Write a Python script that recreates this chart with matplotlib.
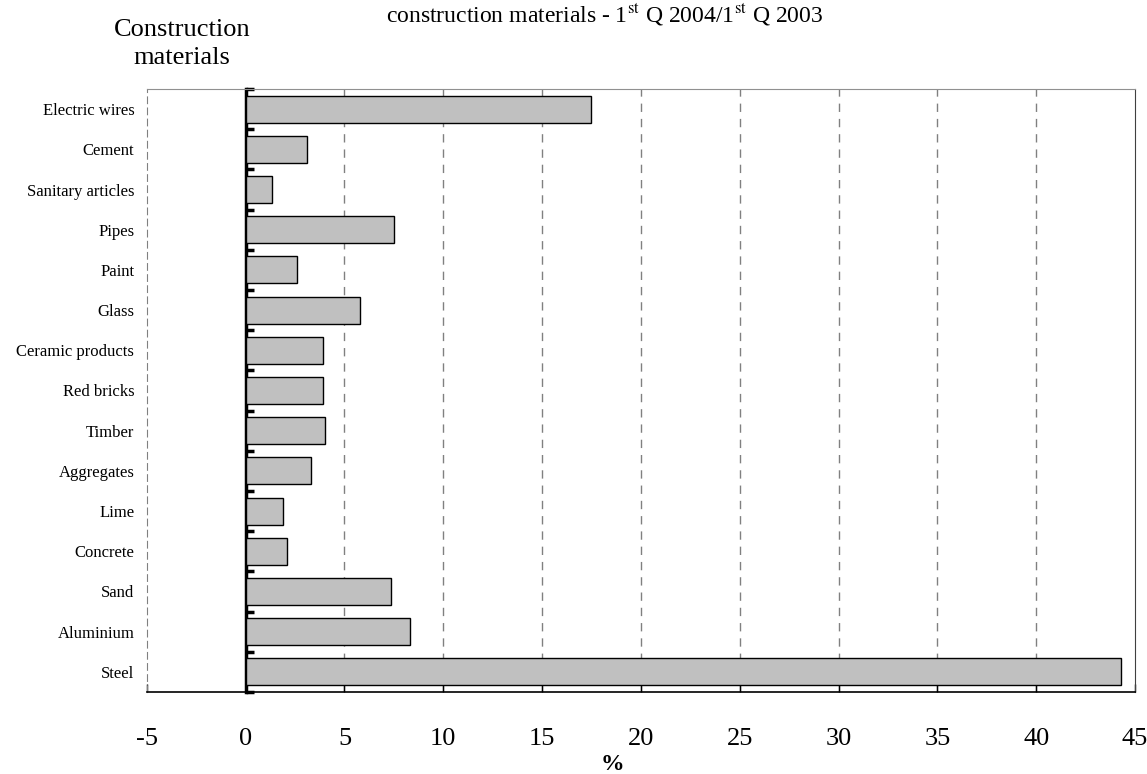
import numpy as np
import matplotlib
matplotlib.use('Agg')
import matplotlib.pyplot as plt

plt.rcParams['font.family'] = ['Liberation Serif', 'DejaVu Serif']
plt.rcParams['mathtext.fontset'] = 'stix'

# data (% change)
materials = ['Electric wires', 'Cement', 'Sanitary articles', 'Pipes', 'Paint', 'Glass',
             'Ceramic products', 'Red bricks', 'Timber', 'Aggregates', 'Lime', 'Concrete',
             'Sand', 'Aluminium', 'Steel']
change = [17.5, 3.1, 1.35, 7.5, 2.6, 5.8, 3.9, 3.9, 4.0, 3.3, 1.9, 2.1, 7.35, 8.3, 44.3]
xticks = [-5, 0, 5, 10, 15, 20, 25, 30, 35, 40, 45]

fig = plt.figure(figsize=(11.47, 7.74), dpi=100)
ax = fig.add_axes([0.128, 0.106, 0.8615, 0.779])

ypos = np.arange(len(materials))
ax.barh(ypos, change, height=0.67, color='#c0c0c0', edgecolor='black', linewidth=1, zorder=3)

ax.set_xlim(-5, 45)
ax.set_ylim(len(materials) - 0.5, -0.5)

# vertical dashed grid
for g in xticks[2:-1]:
    ax.axvline(g, color='#808080', lw=1, ls=(0, (6, 5)), zorder=1)

ax.set_xticks(xticks)
ax.set_xticklabels([str(t) for t in xticks], fontsize=19)
ax.tick_params(axis='x', direction='in', length=6, width=1, pad=26, colors='black')
ax.set_yticks(ypos)
ax.set_yticklabels(materials, fontsize=12)
ax.tick_params(axis='y', length=0, pad=9)

ax.spines['left'].set_color('#808080')
ax.spines['left'].set_linestyle((0, (6, 4)))
ax.spines['top'].set_color('#909090')
ax.spines['right'].set_color('#404040')
ax.spines['bottom'].set_color('black')
ax.spines['bottom'].set_linewidth(1.2)

# zero axis with category boundary ticks
sec = ax.secondary_yaxis(0.1)
sec.set_yticks(np.arange(len(materials) + 1) - 0.5)
sec.set_yticklabels([])
sec.tick_params(direction='in', length=6, width=2.5, colors='black')
sec.spines['left'].set_linewidth(2.5)
sec.spines['left'].set_color('black')

fig.text(612 / 1147, 1 - 764 / 774, '%', ha='center', va='center',
         fontsize=17, fontweight='bold')

fig.text(182 / 1147, 1 - 44 / 774, 'Construction\nmaterials', ha='center', va='center',
         fontsize=19, linespacing=1.4)
fig.text(605 / 1147, 1 - 23 / 774,
         'construction materials - 1$^{\\rm st}$ Q 2004/1$^{\\rm st}$ Q 2003',
         ha='center', va='baseline', fontsize=17)

fig.savefig('out.png', dpi=100)
